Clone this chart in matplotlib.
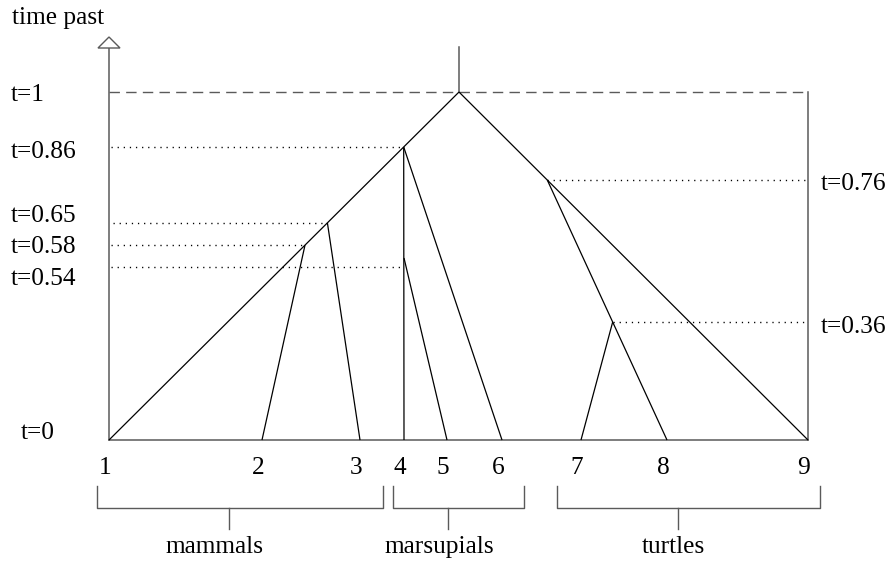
import matplotlib
matplotlib.use('Agg')
import matplotlib.pyplot as plt
from matplotlib.patches import Polygon

plt.rcParams['font.family'] = ['Liberation Serif', 'DejaVu Serif']

# ---------------- data ----------------
leaf_labels = ['1', '2', '3', '4', '5', '6', '7', '8', '9']
leaf_x = [109, 262, 360, 404, 447, 502, 581, 667, 808]   # leaf positions on the baseline
root_x = 459
# drawn heights (time past) of the internal nodes
h_root = 1.0
h_A = 0.842   # split mammals / marsupials
h_B = 0.624   # split leaf 3
h_C = 0.560   # split leaf 2
h_D = 0.523   # split leaf 5
h_T = 0.747   # split turtles
h_E = 0.339   # split leaf 7
left_time_labels = ['t=1', 't=0.86', 't=0.65', 't=0.58', 't=0.54']
guide_0_54 = 0.497
right_time_labels = ['t=0.76', 't=0.36']
zero_label = 't=0'
group_names = ['mammals', 'marsupials', 'turtles']
axis_title = 'time past'

# ---------------- layout helpers ----------------
W, H = 893, 563
BASE, UNIT = 440, 348          # pixel row of t=0 and pixels per unit of time


def py(px):
    """pixel row -> time coordinate"""
    return (BASE - px) / UNIT


def on_edge(x0, h0, x1, h1, h):
    """x of a point at height h on the straight edge (x0,h0)-(x1,h1)"""
    return x0 + (h0 - h) / (h0 - h1) * (x1 - x0)


fig = plt.figure(figsize=(W / 100, H / 100), dpi=100)
ax = fig.add_axes([0, 0, 1, 1])
ax.set_xlim(0, W)
ax.set_ylim(py(H), py(0))
ax.axis('off')

GRAY = '#5a5a5a'
BLACK = '#000000'
FS = 18.3

# node x positions derived from the tree edges
xA = on_edge(root_x, h_root, leaf_x[0], 0, h_A)
xB = on_edge(root_x, h_root, leaf_x[0], 0, h_B)
xC = on_edge(root_x, h_root, leaf_x[0], 0, h_C)
xD = leaf_x[3]
xT = on_edge(root_x, h_root, leaf_x[8], 0, h_T)
xE = on_edge(xT, h_T, leaf_x[7], 0, h_E)

# ---- guide lines ----
ax.plot([leaf_x[0], leaf_x[8]], [h_root, h_root], color=GRAY, lw=1.0,
        dashes=(7.5, 4.5), zorder=1)
dot_kw = dict(color=BLACK, lw=1.0, dashes=(0.9, 3.5), zorder=1)
ax.plot([leaf_x[0] + 2, xA], [h_A, h_A], **dot_kw)
ax.plot([leaf_x[0] + 4, xB], [h_B, h_B], **dot_kw)
ax.plot([leaf_x[0] + 2, xC], [h_C, h_C], **dot_kw)
ax.plot([leaf_x[0] + 2, leaf_x[3]], [guide_0_54, guide_0_54], **dot_kw)
ax.plot([xT, leaf_x[8]], [h_T, h_T], **dot_kw)
ax.plot([xE, leaf_x[8]], [h_E, h_E], **dot_kw)

# ---- frame: left axis with arrow, baseline, right edge, root stem ----
ax.plot([leaf_x[0], leaf_x[0]], [0, py(48)], color=GRAY, lw=1.1, zorder=2)
ax.add_patch(Polygon([(leaf_x[0] - 11, py(48)), (leaf_x[0] + 11, py(48)),
                      (leaf_x[0], py(37))], closed=True, facecolor='white',
                     edgecolor=GRAY, lw=1.0, zorder=3))
ax.plot([leaf_x[0], leaf_x[8]], [0, 0], color=GRAY, lw=1.1, zorder=2)
ax.plot([leaf_x[8], leaf_x[8]], [0, h_root], color=GRAY, lw=1.1, zorder=2)
ax.plot([root_x, root_x], [h_root, py(47)], color=GRAY, lw=1.1, zorder=2)

# ---- tree edges ----
edge_kw = dict(color=BLACK, lw=0.9, zorder=4, solid_capstyle='butt')
ax.plot([root_x, leaf_x[0]], [h_root, 0], **edge_kw)
ax.plot([root_x, leaf_x[8]], [h_root, 0], **edge_kw)
ax.plot([xA, leaf_x[3]], [h_A, 0], **edge_kw)
ax.plot([xA, leaf_x[5]], [h_A, 0], **edge_kw)
ax.plot([xD, leaf_x[4]], [h_D, 0], **edge_kw)
ax.plot([xB, leaf_x[2]], [h_B, 0], **edge_kw)
ax.plot([xC, leaf_x[1]], [h_C, 0], **edge_kw)
ax.plot([xT, leaf_x[7]], [h_T, 0], **edge_kw)
ax.plot([xE, leaf_x[6]], [h_E, 0], **edge_kw)

# ---- texts ----
ax.text(12, py(18), axis_title, fontsize=FS, ha='left', va='center')
left_label_rows = [95, 152, 216, 247, 279]
for lab, row in zip(left_time_labels, left_label_rows):
    ax.text(11, py(row), lab, fontsize=FS, ha='left', va='center')
ax.text(21, py(433), zero_label, fontsize=FS, ha='left', va='center')
for lab, row in zip(right_time_labels, [184, 327]):
    ax.text(821, py(row), lab, fontsize=FS, ha='left', va='center')
for lab, x in zip(leaf_labels, leaf_x):
    ax.text(x - 4, py(468), lab, fontsize=FS, ha='center', va='center')

# ---- group brackets ----
brackets = [(97, 383, 229), (393, 524, 448), (557, 820, 678)]
label_cx = [214, 439, 673]
for (x0, x1, xs), name, cx in zip(brackets, group_names, label_cx):
    ax.plot([x0, x0, x1, x1], [py(486), py(508), py(508), py(486)],
            color=GRAY, lw=1.0)
    ax.plot([xs, xs], [py(508), py(529)], color=GRAY, lw=1.0)
    ax.text(cx, py(547), name, fontsize=FS, ha='center', va='center')

fig.savefig('out.png', dpi=100)
